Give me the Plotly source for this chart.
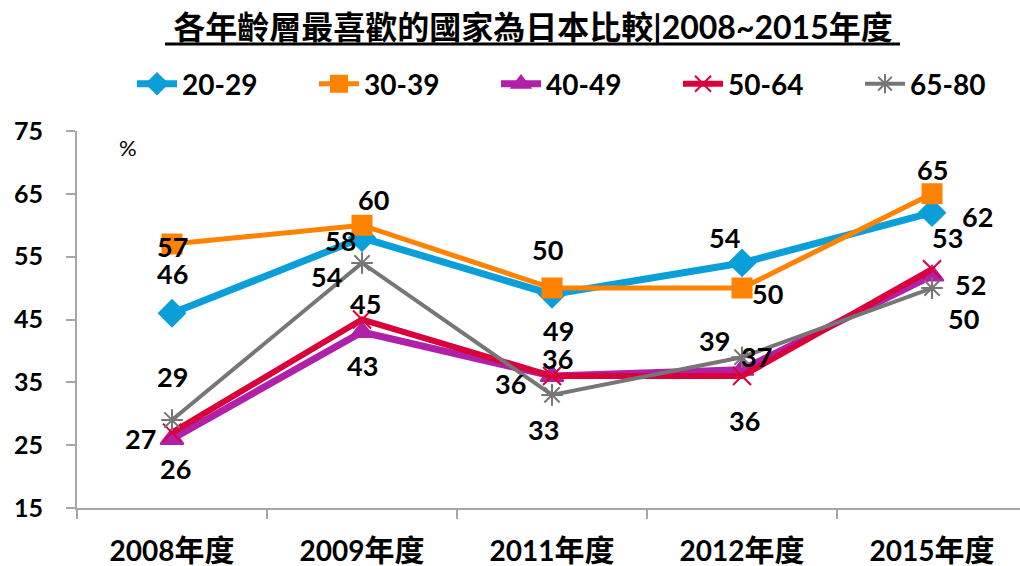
import plotly.graph_objects as go

years = ["2008", "2009", "2011", "2012", "2015"]
categories = [y + "年度" for y in years]
series_names = ["20-29", "30-39", "40-49", "50-64", "65-80"]
v_20_29 = [46, 58, 49, 54, 62]
v_30_39 = [57, 60, 50, 50, 65]
v_40_49 = [26, 43, 36, 37, 52]
v_50_64 = [27, 45, 36, 36, 53]
v_65_80 = [29, 54, 33, 39, 50]
values = [v_20_29, v_30_39, v_40_49, v_50_64, v_65_80]

colors = ["#0A9FD8", "#FF8200", "#B020A8", "#DA0039", "#767676"]
symbols = ["diamond", "square", "triangle-up", "x-thin-open", "asterisk-open"]
msizes = [20, 19, 20, 18, 18]
lwidths = [7, 5, 7, 6, 4]

# label offsets in pixels (dx, dy; dy positive = down)
label_offsets = [
    [(0, -40), (-22, 3), (6, 36), (-18, -25), (45, 4)],
    [(0, 2), (11, -26), (-5, -39), (25, 5), (0, -24)],
    [(3, 30), (0, 33), (-42, 7), (14, -13), (38, 9)],
    [(-32, 6), (3, -16), (5, -18), (2, 44), (15, -32)],
    [(0, -44), (-36, 14), (-9, 35), (-28, -17), (31, 30)],
]

LAT = "Lato, 'Noto Sans CJK TC', sans-serif"
L, T, B, W = 77, 131, 508, 943
H = B - T

fig = go.Figure()
for name, vals, c, s, ms, lw in zip(series_names, values, colors, symbols, msizes, lwidths):
    fig.add_trace(go.Scatter(
        x=categories, y=vals, name=f"<b>{name}</b>", mode="lines+markers",
        line=dict(color=c, width=lw),
        marker=dict(symbol=s, size=ms, color=c, line=dict(color=c, width=2)),
    ))

annotations = []
for vals, offs in zip(values, label_offsets):
    for i, (v, (dx, dy)) in enumerate(zip(vals, offs)):
        annotations.append(dict(
            x=i, y=v, xref="x", yref="y", text=f"<b>{v}</b>", showarrow=False,
            xshift=dx, yshift=-dy, font=dict(family=LAT, size=27, color="black"),
        ))
annotations.append(dict(x=(128 - L) / W, y=(B - 147) / H, xref="paper", yref="paper",
                        xanchor="center", yanchor="middle",
                        text="%", showarrow=False,
                        font=dict(family=LAT, size=22, color="black")))

ticktext = [f"<b>{y}<span style='font-size:30px'>年度</span></b>" for y in years]

fig.update_layout(
    width=1020, height=566,
    margin=dict(l=L, r=1020 - L - W, t=T, b=566 - B, autoexpand=False),
    paper_bgcolor="white", plot_bgcolor="white",
    title=dict(text="<b>各年齡層最喜歡的國家為日本比較|2008~2015年度</b>",
               x=533 / 1020, xanchor="center", y=1 - 28 / 566, yanchor="middle",
               font=dict(family=LAT, size=32, color="black")),
    showlegend=True,
    legend=dict(orientation="h", x=(132 - L) / W, xanchor="left",
                y=(B - 84) / H, yanchor="middle",
                font=dict(family=LAT, size=28, color="black"),
                entrywidth=127, entrywidthmode="pixels", itemwidth=40,
                bgcolor="rgba(0,0,0,0)"),
    xaxis=dict(type="category", range=[-0.5, 4.463],
               showgrid=False, automargin=False,
               showline=True, linecolor="#A6A6A6", linewidth=2,
               ticks="outside", tickson="boundaries", ticklen=9, tickcolor="#A6A6A6", tickwidth=2,
               tickmode="array", tickvals=categories, ticktext=ticktext,
               tickfont=dict(family=LAT, size=28, color="black"), ticklabelstandoff=17),
    yaxis=dict(range=[15, 75], dtick=10, tick0=15, showgrid=False, zeroline=False,
               automargin=False,
               showline=True, linecolor="#A6A6A6", linewidth=2,
               ticks="outside", ticklen=9, tickcolor="#A6A6A6", tickwidth=2,
               tickprefix="<b>", ticksuffix="</b>",
               tickfont=dict(family=LAT, size=25, color="black"), ticklabelstandoff=18),
    annotations=annotations,
    shapes=[dict(type="line", xref="paper", yref="paper",
                 x0=(165 - L) / W, x1=(900 - L) / W,
                 y0=(B - 44) / H, y1=(B - 44) / H,
                 line=dict(color="black", width=3))],
)

fig.write_html("out.html", config={"displayModeBar": False},
               post_script="document.body.style.margin='0';")
